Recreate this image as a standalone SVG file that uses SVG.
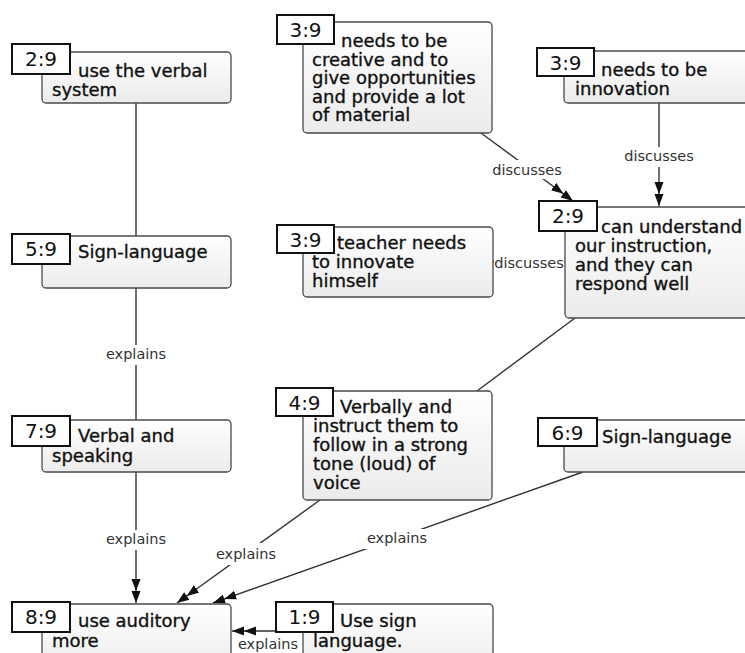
<svg xmlns="http://www.w3.org/2000/svg" width="745" height="653" viewBox="0 0 745 653">
<style>
.box{fill:url(#g);stroke:#4a4a4a;stroke-width:1.3}
.lab{fill:#fff;stroke:#111;stroke-width:2}
.num{font-family:"DejaVu Sans",sans-serif;font-size:20px;fill:#111;text-anchor:middle}
.t{font-family:"DejaVu Sans",sans-serif;font-size:18px;fill:#111;stroke:#111;stroke-width:0.35}
.e{stroke:#333;stroke-width:1.4;fill:none}
.a{marker-end:url(#dbl)}
.el{font-family:"DejaVu Sans",sans-serif;font-size:14.5px;fill:#333;text-anchor:middle}
.bg{fill:#fff}
</style>
<defs>
<linearGradient id="g" x1="0" y1="0" x2="0" y2="1">
<stop offset="0" stop-color="#ffffff"/>
<stop offset="1" stop-color="#ebebeb"/>
</linearGradient>
<marker id="dbl" markerUnits="userSpaceOnUse" viewBox="0 0 24 10" markerWidth="24" markerHeight="10" refX="24" refY="5" orient="auto">
<path d="M0,0.5 L12,5 L0,9.5 Z M12,0.5 L24,5 L12,9.5 Z" fill="#111"/>
</marker>
</defs>
<rect width="745" height="653" fill="#fff"/>

<g id="connectors">
<line class="e" x1="136" y1="103" x2="136" y2="236"/>
<line class="e" x1="136" y1="288" x2="136" y2="420"/>
<line class="e a" x1="136" y1="472" x2="136" y2="603"/>
<line class="e a" x1="320" y1="500" x2="177" y2="603"/>
<line class="e a" x1="583" y1="472" x2="213" y2="603"/>
<line class="e a" x1="276" y1="631" x2="232" y2="631"/>
<line class="e a" x1="481" y1="133" x2="573" y2="201"/>
<line class="e a" x1="659" y1="103" x2="659" y2="206"/>
<line class="e" x1="493" y1="262" x2="565" y2="262"/>
<line class="e" x1="575" y1="318" x2="477" y2="391"/>
<g id="edge-labels">
<rect class="bg" x="102" y="345" width="68" height="20"/>
<text class="el" x="136" y="359">explains</text>
<rect class="bg" x="102" y="530" width="68" height="20"/>
<text class="el" x="136" y="544">explains</text>
<rect class="bg" x="212" y="543" width="68" height="22"/>
<text class="el" x="246" y="559">explains</text>
<rect class="bg" x="363" y="529" width="68" height="20"/>
<text class="el" x="397" y="543">explains</text>
<text class="el" x="268" y="649">explains</text>
<rect class="bg" x="490" y="160" width="75" height="19"/>
<text class="el" x="527" y="175">discusses</text>
<rect class="bg" x="623" y="147" width="72" height="20"/>
<text class="el" x="659" y="161">discusses</text>
<rect class="bg" x="494" y="254" width="70" height="20"/>
<text class="el" x="529" y="268">discusses</text>
</g>
</g>

<g id="n-2-9-verbal">
<rect class="box" x="42" y="52" width="189" height="51" rx="4"/>
<rect class="lab" x="12" y="44" width="58" height="30"/>
<text class="num" x="41" y="66">2:9</text>
<text class="t" x="78" y="77">use the verbal</text>
<text class="t" x="52" y="96">system</text>
</g>

<g id="n-3-9-creative">
<rect class="box" x="303" y="22" width="189" height="111" rx="4"/>
<rect class="lab" x="277" y="15" width="57" height="29"/>
<text class="num" x="305.5" y="37">3:9</text>
<text class="t" x="341" y="47">needs to be</text>
<text class="t" x="312" y="65.5">creative and to</text>
<text class="t" x="312" y="84">give opportunities</text>
<text class="t" x="312" y="102.5">and provide a lot</text>
<text class="t" x="312" y="121">of material</text>
</g>

<g id="n-3-9-innovation">
<rect class="box" x="564" y="51" width="200" height="52" rx="4"/>
<rect class="lab" x="537" y="48" width="57" height="28"/>
<text class="num" x="565.5" y="70">3:9</text>
<text class="t" x="601" y="76">needs to be</text>
<text class="t" x="575" y="95">innovation</text>
</g>

<g id="n-2-9-understand">
<rect class="box" x="565" y="207" width="200" height="111" rx="4"/>
<rect class="lab" x="539" y="201" width="58" height="30"/>
<text class="num" x="568" y="223">2:9</text>
<text class="t" x="601" y="233">can understand</text>
<text class="t" x="575" y="252">our instruction,</text>
<text class="t" x="575" y="271">and they can</text>
<text class="t" x="575" y="290">respond well</text>
</g>

<g id="n-3-9-teacher">
<rect class="box" x="303" y="227" width="190" height="70" rx="4"/>
<rect class="lab" x="277" y="225" width="57" height="28"/>
<text class="num" x="305.5" y="247">3:9</text>
<text class="t" x="337" y="249">teacher needs</text>
<text class="t" x="312" y="268">to innovate</text>
<text class="t" x="312" y="287">himself</text>
</g>

<g id="n-5-9">
<rect class="box" x="42" y="236" width="189" height="52" rx="4"/>
<rect class="lab" x="12" y="234" width="58" height="30"/>
<text class="num" x="41" y="256">5:9</text>
<text class="t" x="78" y="258">Sign-language</text>
</g>

<g id="n-7-9">
<rect class="box" x="42" y="420" width="189" height="52" rx="4"/>
<rect class="lab" x="12" y="416" width="58" height="30"/>
<text class="num" x="41" y="438">7:9</text>
<text class="t" x="78" y="442">Verbal and</text>
<text class="t" x="52" y="462">speaking</text>
</g>

<g id="n-4-9">
<rect class="box" x="303" y="391" width="189" height="109" rx="4"/>
<rect class="lab" x="276" y="388" width="57" height="28"/>
<text class="num" x="304.5" y="410">4:9</text>
<text class="t" x="340" y="413">Verbally and</text>
<text class="t" x="313" y="432">instruct them to</text>
<text class="t" x="313" y="451">follow in a strong</text>
<text class="t" x="313" y="470">tone (loud) of</text>
<text class="t" x="313" y="489">voice</text>
</g>

<g id="n-6-9">
<rect class="box" x="564" y="420" width="200" height="52" rx="4"/>
<rect class="lab" x="538" y="418" width="59" height="28"/>
<text class="num" x="567.5" y="440">6:9</text>
<text class="t" x="602" y="443">Sign-language</text>
</g>

<g id="n-8-9">
<rect class="box" x="42" y="604" width="189" height="70" rx="4"/>
<rect class="lab" x="12" y="602" width="58" height="30"/>
<text class="num" x="41" y="624">8:9</text>
<text class="t" x="78" y="627">use auditory</text>
<text class="t" x="52" y="647">more</text>
</g>

<g id="n-1-9">
<rect class="box" x="303" y="604" width="190" height="70" rx="4"/>
<rect class="lab" x="276" y="602" width="57" height="30"/>
<text class="num" x="304.5" y="624">1:9</text>
<text class="t" x="340" y="627">Use sign</text>
<text class="t" x="313" y="647">language.</text>
</g>
</svg>
